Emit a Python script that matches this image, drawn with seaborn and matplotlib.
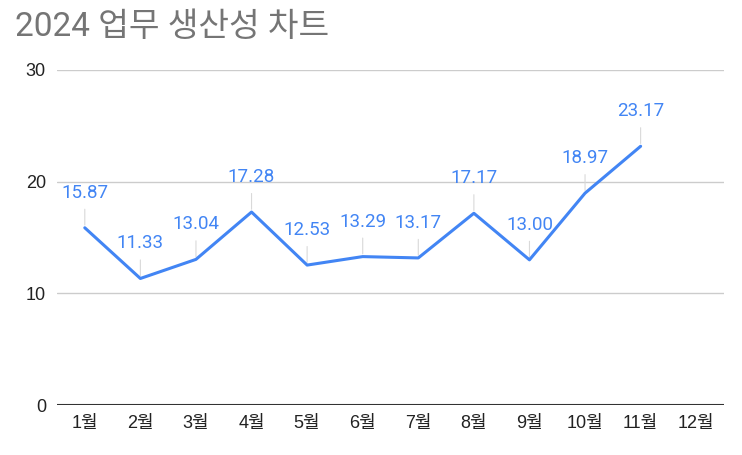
import numpy as np
import pandas as pd
import matplotlib
matplotlib.use('Agg')
import matplotlib.pyplot as plt
import seaborn as sns

# chart data
months = ['1월', '2월', '3월', '4월', '5월', '6월', '7월', '8월', '9월', '10월', '11월', '12월']
productivity = [15.87, 11.33, 13.04, 17.28, 12.53, 13.29, 13.17, 17.17, 13.00, 18.97, 23.17]
y_ticks = [0, 10, 20, 30]

title = '2024 업무 생산성 차트'
line_color = '#4285F4'

sns.set_theme(style='white')
plt.rcParams['font.family'] = ['Liberation Sans', 'Noto Sans CJK KR']

df = pd.DataFrame({'pos': np.arange(len(productivity)), 'value': productivity})

fig = plt.figure(figsize=(7.42, 4.55), dpi=100)
ax = fig.add_axes([57 / 742, 1 - 405 / 455, 667 / 742, 335 / 455])

sns.lineplot(data=df, x='pos', y='value', ax=ax, color=line_color, linewidth=2.2, zorder=3)

# data labels with small leader lines
for x, v in zip(df['pos'], df['value']):
    ax.annotate(f'{v:.2f}', xy=(x, v), xytext=(0, 26), textcoords='offset pixels',
                ha='center', va='bottom', color=line_color, fontsize=13.5,
                family=['Roboto', 'Noto Sans CJK KR'],
                arrowprops=dict(arrowstyle='-', color='#d9d9d9', lw=0.8, shrinkA=3, shrinkB=2),
                zorder=2)

ax.set_xlim(-0.5, len(months) - 0.5)
ax.set_ylim(0, 30)
ax.set_xticks(range(len(months)))
ax.set_xticklabels(months)
ax.set_yticks(y_ticks)
ax.set_xlabel('')
ax.set_ylabel('')

for t in y_ticks[1:]:
    ax.axhline(t, color='#cccccc', lw=1, zorder=1)
ax.axhline(0, color='#333333', lw=1.5, zorder=4)

for s in ax.spines.values():
    s.set_visible(False)
ax.tick_params(axis='both', length=0, labelsize=13, colors='#222222')
ax.tick_params(axis='y', pad=8)
ax.tick_params(axis='x', pad=7)
ax.grid(False)

fig.text(15 / 742, 1 - 27 / 455, title, fontsize=24, color='#757575', va='center', ha='left',
         family=['Roboto', 'Noto Sans CJK KR'])

fig.savefig('out.png', dpi=100)
